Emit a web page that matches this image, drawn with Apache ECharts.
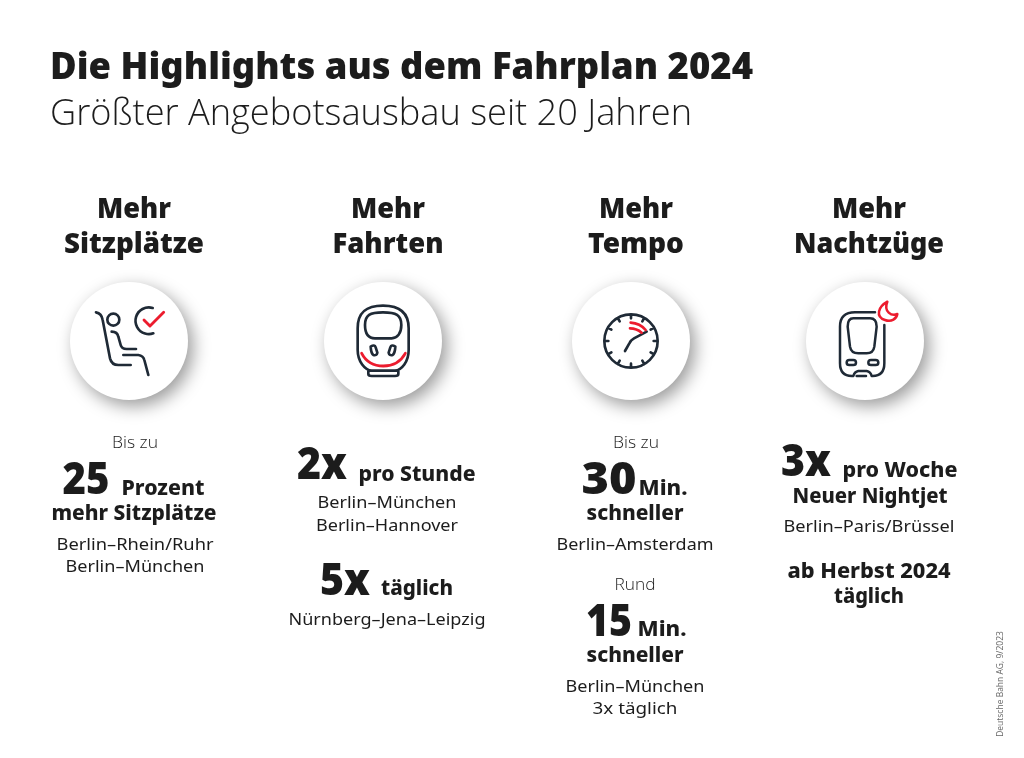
<!DOCTYPE html>
<html><head><meta charset="utf-8">
<style>html,body{margin:0;padding:0;background:#fff}#c{width:1024px;height:758px}</style>
<script src="https://cdn.jsdelivr.net/npm/echarts@6/dist/echarts.min.js"></script></head>
<body><div id="c"></div>
<script>
const titleText = 'Die Highlights aus dem Fahrplan 2024';
const subtitleText = 'Größter Angebotsausbau seit 20 Jahren';
const headlineTop = ['Mehr', 'Mehr', 'Mehr', 'Mehr'];
const headlineBottom = ['Sitzplätze', 'Fahrten', 'Tempo', 'Nachtzüge'];
const bigValues = ['25', '2x', '5x', '30', '15', '3x'];
const valueUnits = ['Prozent', 'pro Stunde', 'täglich', 'Min.', 'Min.', 'pro Woche'];
const boldLines = ['mehr Sitzplätze', 'schneller', 'schneller', 'Neuer Nightjet', 'ab Herbst 2024', 'täglich'];
const smallLines = ['Bis zu', 'Bis zu', 'Rund'];
const routeLines = ['Berlin–Rhein/Ruhr', 'Berlin–München', 'Berlin–München', 'Berlin–Hannover', 'Nürnberg–Jena–Leipzig', 'Berlin–Amsterdam', 'Berlin–München', '3x täglich', 'Berlin–Paris/Brüssel'];
const sourceText = 'Deutsche Bahn AG, 9/2023';

const DARK = '#1c1c1c', ICON = '#1f2a36', RED = '#ec1c2e';
const HEAVY = '"Noto Sans"', LIGHT = '"Open Sans"', BODY = '"Noto Sans"';
const els = [];
const cv = document.createElement('canvas').getContext('2d');
// w: target width in px; text is condensed horizontally to fit it
function txt(s, cx, cy, size, weight, family, w, align, fill) {
  cv.font = `${weight} ${size}px ${family}`;
  const m = cv.measureText(s).width;
  const sx = w ? w / m : 1;
  els.push({type:'text', x:cx, y:cy+2, scaleX:sx, z:10,
    style:{text:s, x:0, y:0, fontSize:size, fontWeight:weight, fontFamily:family,
      fill:fill||DARK, align:align||'center', verticalAlign:'middle'}});
}
txt(titleText, 50, 66, 37, 900, HEAVY, 703, 'left');
txt(subtitleText, 50, 113, 36, 300, LIGHT, 642, 'left');

const headX = [134, 388, 636, 869], topW = [74, 74, 74, 74], botW = [140, 111, 96, 150];
headX.forEach((x,i)=>{
  txt(headlineTop[i], x, 208, 29, 900, HEAVY, topW[i]);
  txt(headlineBottom[i], x, 243, 29, 900, HEAVY, botW[i]);
});
const circleX = [129, 383, 631, 865];
circleX.forEach(x=>els.push({type:'circle', shape:{cx:x, cy:341, r:59}, z:1,
  style:{fill:'#fff', shadowBlur:17, shadowOffsetX:5, shadowOffsetY:6, shadowColor:'rgba(0,0,0,0.4)'}}));

// big numbers
[[0,86,479,47,44],[1,322,464,50,44],[2,345,580,50,44],[3,609,479,55,44],[4,609,621,46,44],[5,806,461,50,44]]
 .forEach(a=>txt(bigValues[a[0]],a[1],a[2],a[4],900,HEAVY,a[3]));
[[0,163,487,83],[1,417,473,117],[2,417,587,72],[3,663,487,49],[4,662,628,49],[5,900,469,115]]
 .forEach(a=>txt(valueUnits[a[0]],a[1],a[2],22,800,HEAVY,a[3]));
[[0,134,512,165],[1,635,512,97],[2,635,654,97],[3,870,495,155],[4,869,570,163],[5,869,595,70]]
 .forEach(a=>txt(boldLines[a[0]],a[1],a[2],22,800,HEAVY,a[3]));
[[0,135,441,46],[1,636,441,46],[2,635,583,41]]
 .forEach(a=>txt(smallLines[a[0]],a[1],a[2],16,300,LIGHT,a[3]));
[[0,135,543,157],[1,135,565,139],[2,387,501,139],[3,387,524,142],[4,387,618,197],[5,635,543,157],[6,635,685,139],[7,635,707,85],[8,869,525,171]]
 .forEach(a=>txt(routeLines[a[0]],a[1],a[2],17,400,BODY,a[3]));

els.push({type:'text', x:1001, y:684, rotation:Math.PI/2, z:10,
  style:{text:sourceText, x:0, y:0, fontSize:8.5, fontFamily:'"Open Sans"', fill:'#666', align:'center', verticalAlign:'middle'}});

// icons: paths in a 3x zoomed coordinate space
const icons = [];
function icon(ox, oy, d, color, lw) { icons.push({ox, oy, d, color, lw}); }
function circ(c,x,y,r){return `M${x-r},${y}A${r},${r} 0 1 1 ${x+r},${y}A${r},${r} 0 1 1 ${x-r},${y}Z`;}
// seat
icon(60,270,'M108,127Q125,130 128,150L150,265Q155,285 175,285L212,285'+circ(0,160,149,18)+'M155,185Q172,185 175,200L182,225Q185,237 200,237L228,237M190,255L235,255Q250,257 253,270L265,315M278,114A40,40 0 1 0 280,190',ICON,8);
icon(60,270,'M252,150L270,168L311,127',RED,8.5);
// train
icon(60,270,'M969,107C915,107 893,130 893,175L893,240C893,275 915,300 935,302L1005,302C1025,300 1046,275 1046,240L1046,175C1046,130 1020,107 969,107ZM969,127C930,127 915,135 915,165C915,190 925,205 945,205L995,205C1012,205 1024,190 1024,165C1024,135 1008,127 969,127ZM932,230Q944,222 947,232L952,248Q950,258 940,255Q933,250 932,230ZM1006,230Q994,222 991,232L986,248Q988,258 998,255Q1005,250 1006,230ZM925,302L925,312Q925,318 935,318L1005,318Q1015,318 1015,312L1015,302',ICON,8);
icon(60,270,'M905,250Q925,288 970,288Q1015,288 1036,250',RED,8.5);
// clock
let ticks = circ(0,213,213,80);
for (let i=0;i<12;i++){const a=i*Math.PI/6,s=Math.sin(a),c=Math.cos(a);
  ticks+=`M${213+80*s},${213-80*c}L${213+68*s},${213-68*c}`;}
icon(560,270,ticks+'M195,243L208,220Q213,210 222,205L260,185',ICON,8);
icon(560,270,'M212,158Q240,160 257,180M210,175Q230,175 245,188',RED,8);
// night train
icon(560,270,'M945,127L885,127Q840,127 840,170L840,280Q840,318 875,318L880,318Q884,305 895,303L920,303Q932,305 935,318L938,318Q973,318 973,280L973,165M890,318L918,318M880,145L930,145Q950,145 950,170L943,230Q940,250 920,250L895,250Q873,250 870,230L863,170Q863,145 880,145ZM868,270L880,270Q888,270 888,278Q888,285 880,285L868,285Q860,285 860,278Q860,270 868,270ZM933,270L947,270Q955,270 955,278Q955,285 947,285L933,285Q925,285 925,278Q925,270 933,270Z',ICON,7.5);
icon(560,270,'M982,95C955,110 945,140 975,150C995,158 1010,145 1012,132C995,140 970,125 982,95Z',RED,7.5);

const chart = echarts.init(document.getElementById('c'), null, {renderer:'canvas', width:1024, height:758});
chart.setOption({animation:false, backgroundColor:'#fff', graphic:{elements:els},
  series:[{type:'custom', coordinateSystem:'none', z:20, silent:true, data:icons.map((_,i)=>i),
    renderItem:(p)=>{const k=icons[p.dataIndex];
      return {type:'path', x:k.ox, y:k.oy, scaleX:1/3, scaleY:1/3, shape:{pathData:k.d},
        style:{fill:'none', stroke:k.color, lineWidth:k.lw, lineCap:'round', lineJoin:'round'}};}}]});
</script></body></html>
